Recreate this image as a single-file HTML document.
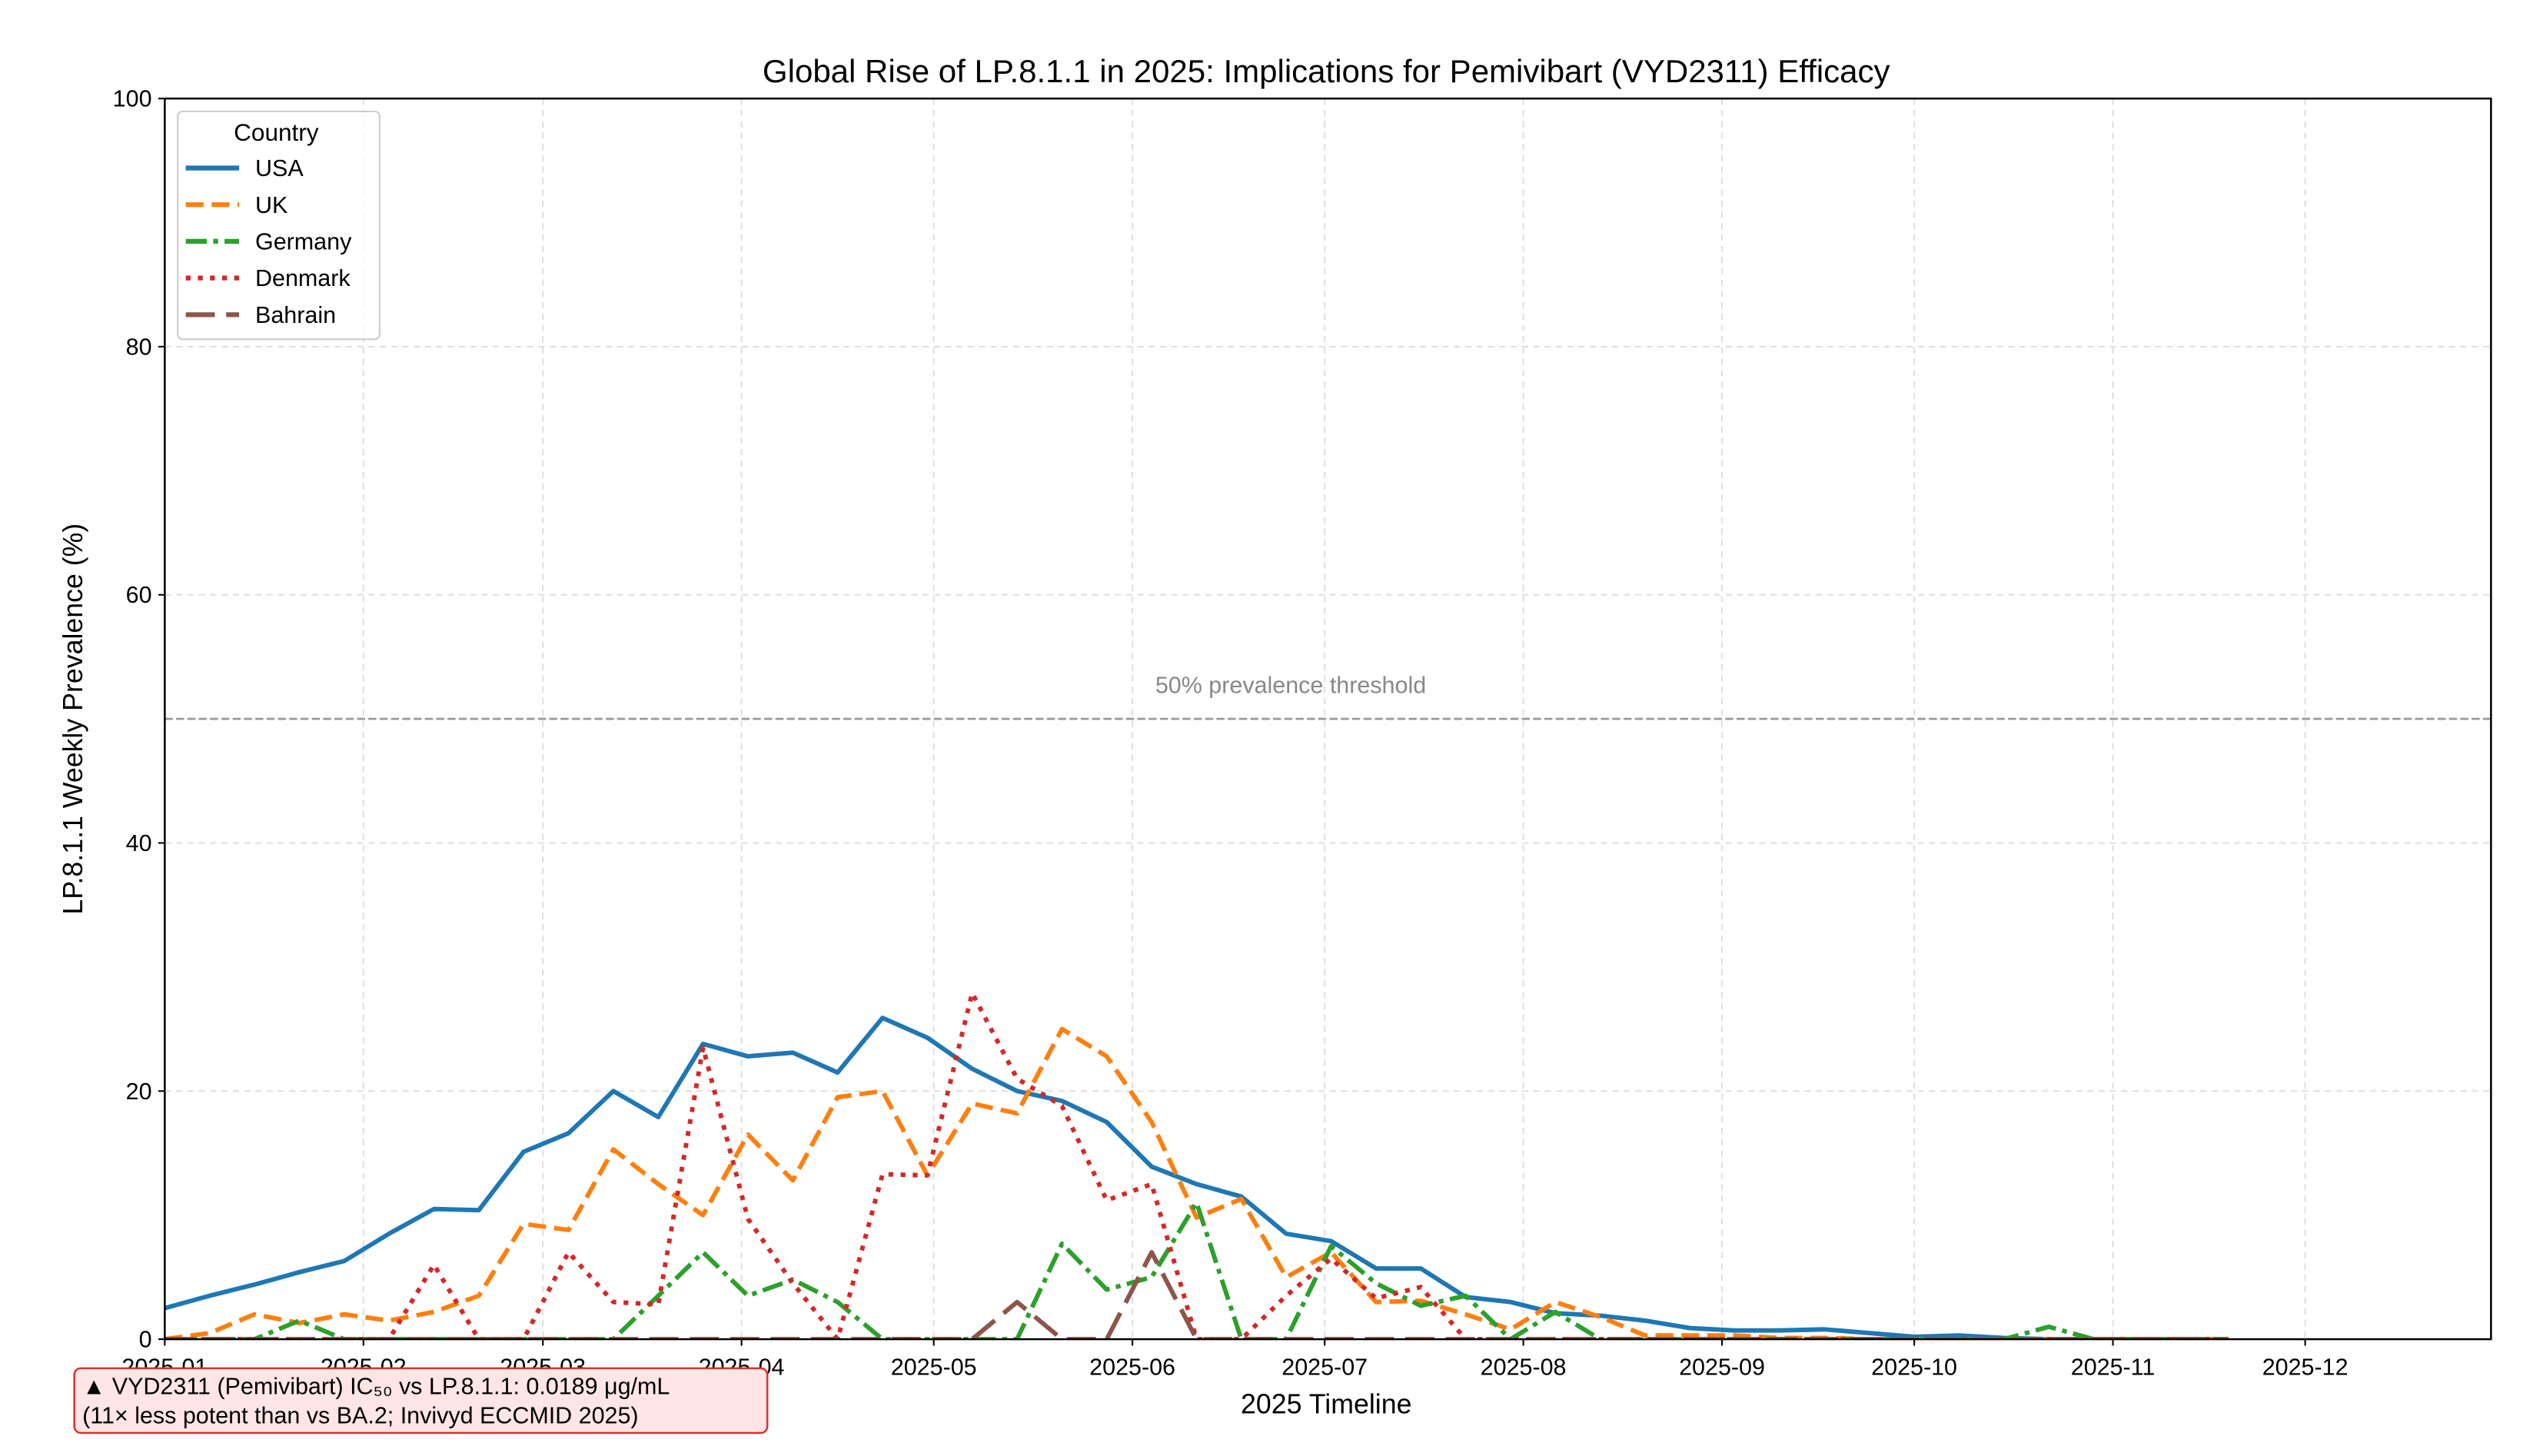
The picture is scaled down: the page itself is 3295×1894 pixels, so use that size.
<!DOCTYPE html>
<html><head><meta charset="utf-8"><style>
html,body{margin:0;padding:0;background:#fff;}
svg{display:block;font-family:"Liberation Sans","DejaVu Sans",sans-serif;}
</style></head><body>
<svg id="chart" width="3295" height="1894" viewBox="0 0 1568 901.3" preserveAspectRatio="none" xmlns="http://www.w3.org/2000/svg">
<defs><clipPath id="plotclip"><rect x="102" y="61" width="1440" height="768"/></clipPath></defs>
<rect x="0" y="0" width="1568" height="901.3" fill="#fff"/>
<text x="821" y="51" text-anchor="middle" font-size="20" fill="#000">Global Rise of LP.8.1.1 in 2025: Implications for Pemivibart (VYD2311) Efficacy</text>
<g id="grid"></g>
<g id="threshold"></g>
<g id="series" clip-path="url(#plotclip)"></g>
<rect x="102" y="61" width="1440" height="768" fill="none" stroke="#000" stroke-width="1.2"/>
<g id="axes"></g>
<text x="821" y="875" text-anchor="middle" font-size="17">2025 Timeline</text>
<text transform="translate(51,445) rotate(-90)" text-anchor="middle" font-size="17">LP.8.1.1 Weekly Prevalence (%)</text>
<g>
<rect x="110" y="69" width="125" height="141" rx="3" fill="#fff" fill-opacity="0.8" stroke="#ccc"/>
<text x="171" y="87" text-anchor="middle" font-size="15">Country</text>
<g id="legend-entries"></g>
</g>
<g>
<rect x="46" y="847" width="429" height="40" rx="4" fill="#ffe5e5" stroke="#e03030" stroke-width="1.2"/>
<text x="51" y="863" font-size="14.5">▲ VYD2311 (Pemivibart) IC₅₀ vs LP.8.1.1: 0.0189 μg/mL</text>
<text x="51" y="881" font-size="14.5">(11× less potent than vs BA.2; Invivyd ECCMID 2025)</text>
</g>
</svg>
<script>
const monthLabels=["2025-01","2025-02","2025-03","2025-04","2025-05","2025-06","2025-07","2025-08","2025-09","2025-10","2025-11","2025-12"];
const monthDays=[0,31,59,90,120,151,181,212,243,273,304,334];
const yTicks=[0,20,40,60,80,100];
const countries=["USA","UK","Germany","Denmark","Bahrain"];
const usa=[2.5,3.5,4.4,5.4,6.3,8.5,10.5,10.4,15.1,16.6,20,17.9,23.8,22.8,23.1,21.5,25.9,24.3,21.8,20,19.2,17.5,13.9,12.5,11.5,8.5,7.9,5.7,5.7,3.4,3,2.1,1.9,1.5,0.9,0.7,0.7,0.8,0.5,0.2,0.3,0.1,0,0,0,0,0];
const uk=[0,0.5,2.0,1.3,2.0,1.5,2.2,3.5,9.3,8.8,15.3,12.5,10,16.5,12.8,19.5,20,13.2,19,18.2,25,22.8,17.5,9.8,11.3,5,7,3,3.1,2,0.8,3,1.8,0.3,0.3,0.3,0.1,0.1,0,0,0,0,0,0,0,0,0];
const germany=[0,0,0,1.5,0,0,0,0,0,0,0,3.5,7,3.5,4.8,3,0,0,0,0,7.7,4,5,11,0,0,7.5,4.5,2.7,3.5,0,2.2,0,0,0,0,0,0,0,0,0,0,1.0,0,0,0,0];
const denmark=[0,0,0,0,0,0,6,0,0,7,3,2.8,23.5,9.7,4.5,0,13.3,13.2,27.9,21,18.8,11.2,12.5,0,0,3.5,6.5,3.3,4.2,0,0,0,0,0,0,0,0,0,0,0,0,0,0,0,0,0,0];
const bahrain=[0,0,0,0,0,0,0,0,0,0,0,0,0,0,0,0,0,0,0,3,0,0,7,0,0,0,0,0,0,0,0,0,0,0,0,0,0,0,0,0,0,0,0,0,0,0,0];
const NS="http://www.w3.org/2000/svg";
const L=102,R=1542,T=61,B=829;
const xDay=d=>L+(R-L)*d/363;
const yVal=v=>B-(B-T)*v/100;
function mk(tag,attrs,parent){const e=document.createElementNS(NS,tag);for(const k in attrs)e.setAttribute(k,attrs[k]);parent.appendChild(e);return e;}
const grid=document.getElementById('grid'),axes=document.getElementById('axes');
monthDays.forEach((d,i)=>{
 const x=xDay(d);
 const g=mk('line',{x1:x,x2:x,y1:T,y2:B,stroke:'#ddd','stroke-dasharray':'4,3','stroke-width':0.9},grid);
 
 
 mk('line',{x1:x,x2:x,y1:B,y2:B+4,stroke:'#000'},axes);
 const t=mk('text',{x:x,y:851,'text-anchor':'middle','font-size':14.5},axes);
 t.textContent=monthLabels[i];
 
 
});
yTicks.forEach(v=>{
 const y=yVal(v);
 const g=mk('line',{x1:L,x2:R,y1:y,y2:y,stroke:'#ddd','stroke-dasharray':'4,3','stroke-width':0.9},grid);
 
 
 mk('line',{x1:L-4,x2:L,y1:y,y2:y,stroke:'#000'},axes);
 const t=mk('text',{x:L-8,y:y+5,'text-anchor':'end','font-size':14.5},axes);
 t.textContent=v;
 
 
});
const th=document.getElementById('threshold');
const tl=mk('line',{x1:L,x2:R,y1:yVal(50),y2:yVal(50),stroke:'#999','stroke-dasharray':'5,2','stroke-width':1.3},th);


const tt=mk('text',{x:799,y:yVal(50)-16,'text-anchor':'middle','font-size':14.5,fill:'#888'},th);
tt.textContent='50% prevalence threshold';


const styles=[
 {c:'#1f77b4',d:'',data:usa},
 {c:'#ff7f0e',d:'11,5',data:uk},
 {c:'#2ca02c',d:'13,4,3,4',data:germany},
 {c:'#d62728',d:'3,4.5',data:denmark},
 {c:'#8c564b',d:'18,7',data:bahrain}];
const sg=document.getElementById('series');
[0,1,2,3,4].forEach(i=>{
 const s=styles[i];
 const pts=s.data.map((v,w)=>xDay(w*7).toFixed(1)+','+yVal(v).toFixed(1)).join(' ');
 const p=mk('polyline',{points:pts,fill:'none',stroke:s.c,'stroke-width':2.8,'stroke-dasharray':s.d,'stroke-linejoin':'round'},sg);
 
 
});
const le=document.getElementById('legend-entries');
countries.forEach((c,i)=>{
 const y=104+i*22.7;
 const s=styles[i];
 const g=mk('g',{},le);
 
 
 mk('line',{x1:115,x2:148,y1:y,y2:y,stroke:s.c,'stroke-width':3,'stroke-dasharray':s.d},g);
 const t=mk('text',{x:158,y:y+5,'font-size':14.5},g);
 t.textContent=c;
});
</script>
</body></html>
